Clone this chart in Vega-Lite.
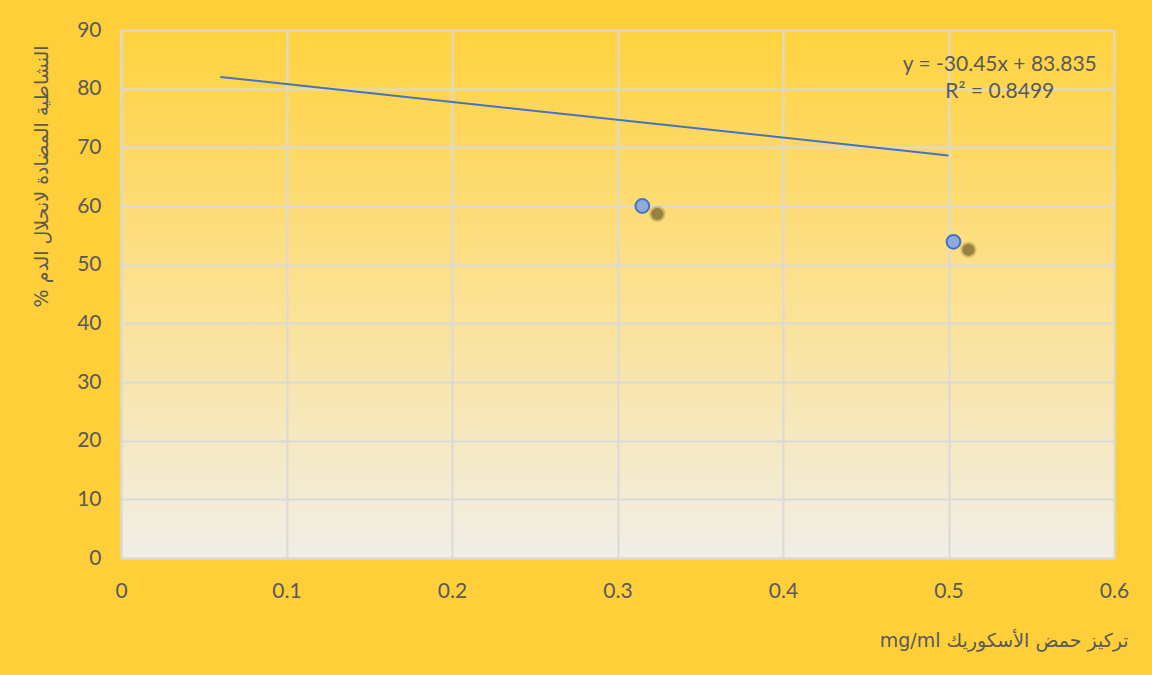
{
  "$schema": "https://vega.github.io/schema/vega-lite/v6.json",
  "width": 993,
  "height": 528,
  "autosize": {"type": "none"},
  "padding": {"left": 121, "top": 30, "right": 38, "bottom": 117},
  "background": "#FFCF3A",
  "config": {
    "view": {
      "stroke": null,
      "fill": {
        "gradient": "linear",
        "x1": 0, "y1": 0, "x2": 0, "y2": 1,
        "stops": [
          {"offset": 0, "color": "#FFD23E"},
          {"offset": 0.5, "color": "#FCE191"},
          {"offset": 1, "color": "#F1EEE7"}
        ]
      }
    },
    "font": "Lato",
    "axis": {
      "grid": true,
      "gridColor": "#D9D9D9",
      "gridWidth": 2,
      "domainColor": "#D9D9D9",
      "domainWidth": 2,
      "ticks": false,
      "labelFont": "Lato",
      "labelFontSize": 21,
      "labelColor": "#595959",
      "labelFlush": false,
      "labelOverlap": false,
      "titleFont": "DejaVu Sans",
      "titleFontWeight": "normal",
      "titleFontSize": 19,
      "titleColor": "#595959"
    }
  },
  "datasets": {
    "points": [
      {"conc": 0.315, "activity": 60.0},
      {"conc": 0.503, "activity": 53.9}
    ],
    "trend": [
      {"conc": 0.06, "activity": 82.008},
      {"conc": 0.5, "activity": 68.61}
    ],
    "labels": [
      {"conc": 0.531, "activity": 84.0, "label": "y = -30.45x + 83.835"},
      {"conc": 0.531, "activity": 79.4, "label": "R² = 0.8499"}
    ]
  },
  "layer": [
    {
      "data": {"name": "trend"},
      "mark": {"type": "line", "color": "#4472C4", "strokeWidth": 2},
      "encoding": {
        "x": {
          "field": "conc", "type": "quantitative",
          "scale": {"domain": [0, 0.6], "nice": false},
          "axis": {
            "values": [0, 0.1, 0.2, 0.3, 0.4, 0.5, 0.6],
            "format": ".1~f",
            "labelPadding": 22,
            "title": "mg/ml تركيز حمض الأسكوريك",
            "titleX": 1007,
            "titleY": 82,
            "titleAlign": "right",
            "titleBaseline": "middle"
          }
        },
        "y": {
          "field": "activity", "type": "quantitative",
          "scale": {"domain": [0, 90], "nice": false},
          "axis": {
            "values": [0, 10, 20, 30, 40, 50, 60, 70, 80, 90],
            "format": "d",
            "labelPadding": 20,
            "title": "% النشاطية المضادة لانحلال الدم",
            "titleX": -80,
            "titleY": 15,
            "titleAngle": -90,
            "titleAlign": "right",
            "titleBaseline": "middle"
          }
        }
      }
    },
    {
      "data": {"name": "points"},
      "mark": {"type": "circle", "size": 260, "color": "#8C7A3A", "opacity": 0.35, "xOffset": 15, "yOffset": 8},
      "encoding": {
        "x": {"field": "conc", "type": "quantitative"},
        "y": {"field": "activity", "type": "quantitative"}
      }
    },
    {
      "data": {"name": "points"},
      "mark": {"type": "circle", "size": 150, "color": "#6E5E28", "opacity": 0.6, "xOffset": 15, "yOffset": 8},
      "encoding": {
        "x": {"field": "conc", "type": "quantitative"},
        "y": {"field": "activity", "type": "quantitative"}
      }
    },
    {
      "data": {"name": "points"},
      "mark": {"type": "point", "shape": "circle", "filled": true, "size": 190, "fill": "#8FAADC", "stroke": "#4472C4", "strokeWidth": 2, "opacity": 1},
      "encoding": {
        "x": {"field": "conc", "type": "quantitative"},
        "y": {"field": "activity", "type": "quantitative"}
      }
    },
    {
      "data": {"name": "labels"},
      "mark": {"type": "text", "font": "Lato", "fontSize": 21, "color": "#595959", "align": "center", "baseline": "middle"},
      "encoding": {
        "x": {"field": "conc", "type": "quantitative"},
        "y": {"field": "activity", "type": "quantitative"},
        "text": {"field": "label"}
      }
    }
  ]
}
